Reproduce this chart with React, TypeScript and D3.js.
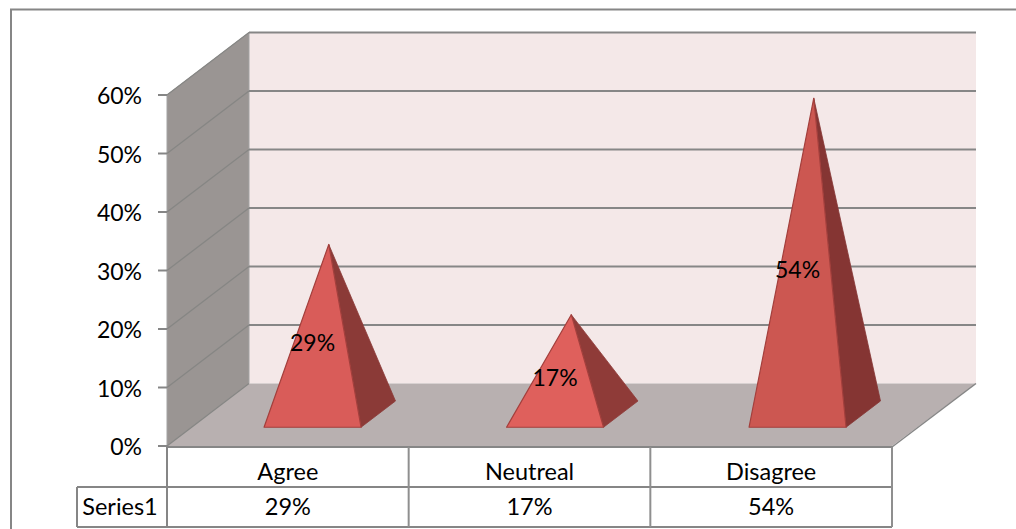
import React from "react";
import * as d3 from "d3";

const categories = ["Agree", "Neutreal", "Disagree"];
const seriesName = "Series1";
const values = [29, 17, 54];
const yTicks = [0, 10, 20, 30, 40, 50, 60];
const frontFaces = ["#d95c59", "#df605c", "#cc5751"];
const sideFaces = ["#8b3a37", "#8f3b38", "#853533"];

const FONT = "Lato, Carlito, sans-serif";
const GRID = "#868686";
const dx = 82;
const dy = -62.5;
const backRight = 976;

const x = d3.scaleBand<string>().domain(categories).range([167, 892]);
const xMarks = d3.scaleBand<string>().domain(categories).range([166.7, 894.2]);
const y = d3.scaleLinear().domain([0, 60]).range([446, 95]);
const pt = (px: number, py: number, f: number): [number, number] => [px + dx * f, py + dy * f];
const poly = (points: [number, number][]) => d3.line()(points)! + "Z";

export default function App() {
  const y0 = y(0);
  const left = x.range()[0];
  const right = x.range()[1];
  const rowTop = 447;
  const rowMid = 487;
  const rowBottom = 527;
  const colEdges = [...categories.map((c) => x(c)!), right];
  const backY0 = y0 + dy;
  return (
    <svg width={1016} height={529} style={{ position: "absolute", left: 0, top: 0, background: "#fff" }} fontFamily={FONT}>
      <path d="M11,529V9.5H1016" fill="none" stroke={GRID} strokeWidth={2} />

      {/* walls and floor */}
      <path d={poly([pt(left, y(60), 1), [backRight, y(60) + dy], [backRight, backY0], pt(left, y0, 1)])} fill="#f4e8e8" />
      <path d={poly([[left, y(60)], pt(left, y(60), 1), pt(left, y0, 1), [left, y0]])} fill="#9a9593" stroke="#a3a3a3" strokeWidth={1} />
      <path d={poly([[left, y0], pt(left, y0, 1), [backRight, backY0], [right, y0]])} fill="#b8b0b0" />
      <path d={d3.line()([[backRight, backY0], [right, y0 + 1]])!} stroke={GRID} strokeWidth={1.5} fill="none" />

      {/* gridlines */}
      {yTicks.map((t) => (
        <g key={t}>
          {t > 0 && <path d={d3.line()([pt(left, y(t), 1), [backRight, y(t) + dy]])!} stroke={GRID} strokeWidth={2} fill="none" />}
          <path d={d3.line()([[left, y(t)], pt(left, y(t), 1)])!} stroke="#868684" strokeWidth={1.3} fill="none" />
          <path d={`M158,${y(t)}H${left}`} stroke={GRID} strokeWidth={2} />
          <text x={142} y={y(t) + 1} dy="0.35em" textAnchor="end" fontSize={23} fill="#000">{`${t}%`}</text>
        </g>
      ))}

      {/* pyramids */}
      {categories.map((c, i) => {
        const bw = xMarks.bandwidth();
        const mid = xMarks(c)! + bw / 2;
        const half = bw * 0.2;
        const apexBase = pt(mid, y0, 0.51);
        const apex: [number, number] = [apexBase[0] - 1, apexBase[1] - (y0 - y(values[i]))];
        const fl = pt(mid - half, y0, 0.3);
        const fr = pt(mid + half, y0, 0.3);
        const br = pt(mid + half, y0, 0.72);
        const fmid = pt(mid, y0, 0.3)[0];
        return (
          <g key={c}>
            <path d={poly([fr, br, apex])} fill={sideFaces[i]} stroke={sideFaces[i]} strokeWidth={0.8} />
            <path d={poly([fl, fr, apex])} fill={frontFaces[i]} stroke="#a33f3c" strokeWidth={1.2} strokeLinejoin="round" />
            <text x={fmid} y={(y0 + y(values[i])) / 2 - 18} dy="0.35em" textAnchor="middle" fontSize={23} fill="#000">{`${values[i]}%`}</text>
          </g>
        );
      })}

      {/* data table */}
      <path d={`M${left},${rowTop}H${right}`} stroke={GRID} strokeWidth={2} />
      <path d={`M77,${rowMid}H${right}M77,${rowBottom}H${right}M77,${rowMid}V${rowBottom}`} stroke={GRID} strokeWidth={2} fill="none" />
      {colEdges.map((e, i) => (
        <path key={i} d={`M${e},${rowTop}V${rowBottom}`} stroke={i === 0 ? GRID : "#8f8f8f"} strokeWidth={2} />
      ))}
      {categories.map((c, i) => (
        <g key={c} textAnchor="middle" fontSize={23.5} fill="#000">
          <text x={x(c)! + x.bandwidth() / 2} y={(rowTop + rowMid) / 2 + 6} dy="0.3em">{c}</text>
          <text x={x(c)! + x.bandwidth() / 2} y={(rowMid + rowBottom) / 2} dy="0.35em">{`${values[i]}%`}</text>
        </g>
      ))}
      <text x={120} y={(rowMid + rowBottom) / 2} dy="0.35em" textAnchor="middle" fontSize={23.5} fill="#000">{seriesName}</text>
    </svg>
  );
}
